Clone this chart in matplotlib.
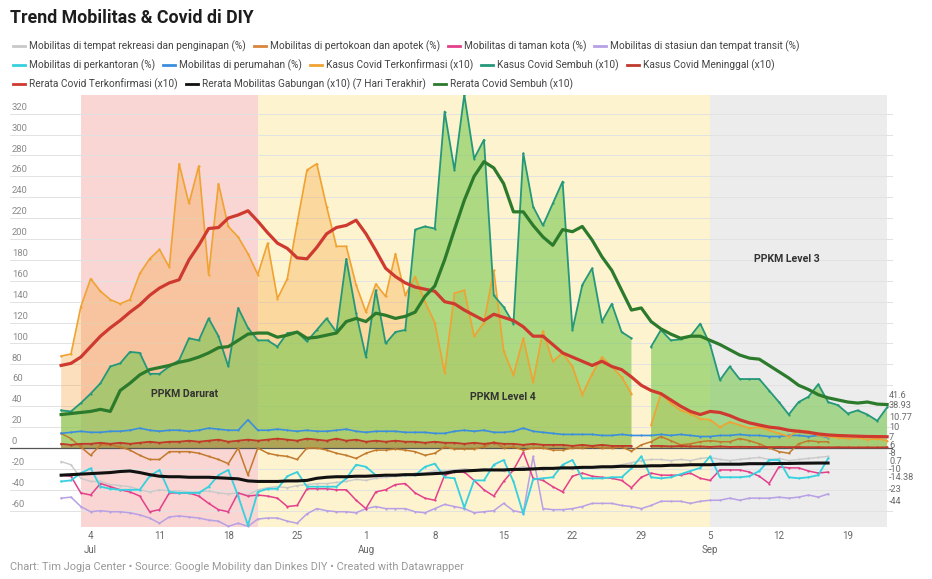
import numpy as np
import pandas as pd
import matplotlib
matplotlib.use('Agg')
import matplotlib.pyplot as plt
import matplotlib.dates as mdates
from matplotlib.lines import Line2D

nan = np.nan

# daily dates, 1 Jul - 23 Sep 2021 (covid); mobility ends 18 Sep
dates = pd.date_range('2021-07-01', '2021-09-23')
mob_dates = dates[:79]

# ---- covid series (x10) ----
terkonfirmasi = [88, 90, 135, 162, 150, 142, 138, 142, 167, 181, 190, 173, 272, 234, 270, 166, 253, 212, 202, 186,
                 166, 196, 143, 162, 215, 266, 272, 231, 193, 193, 156, 130, 157, 145, 186, 146, 164, 140, 120, 72,
                 148, 151, 107, 120, 170, 93, 70, 105, 63, 112, 83, 91, 78, 51, 71, 87, 78, 68, 52, nan,
                 22, 52, 43, 36, 33, 28, 27, 20, 25, 22, 19, 20, 17, 14, 11, 17, 16, 12, 11, 10,
                 9, 10, 8, 9, 7]
sembuh = [36, 35, 43, 52, 62, 78, 81, 92, 91, 71, 71, 78, 84, 105, 103, 124, 107, 78, 134, 115,
          103, 103, 97, 110, 111, 102, 113, 124, 111, 181, 129, 87, 151, 100, 111, 113, 209, 212, 210, 322,
          266, 338, 277, 295, 146, 135, 119, 282, 231, 213, 234, 255, 113, 156, 172, 121, 138, 111, 105, nan,
          97, 113, 103, 104, 107, 119, 99, 65, 78, 66, 66, 66, 55, 44, 32, 44, 49, 61, 44, 41,
          33, 36, 32, 26, 38.93]
meninggal = [4, 3, 4, 4, 5, 4, 5, 4, 5, 6, 5, 6, 6, 7, 6, 7, 8, 6, 7, 8,
             7, 8, 9, 8, 7, 9, 8, 7, 9, 7, 8, 6, 7, 6, 7, 6, 6, 5, 6, 5,
             5, 4, 5, 4, 5, 4, 4, 3, 4, 3, 3, 3, 2, 3, 2, 3, 2, 2, 2, nan,
             2, 2, 1.5, 2, 1.5, 1.5, 1, 1.5, 1, 1.2, 1, 1, 0.8, 1, 0.8, 0.9, 0.7, 0.8, 0.6, 0.7,
             0.6, 0.5, 0.6, 0.5, 0.7]
rerata_terkonfirmasi = [79, 81, 87, 97, 107, 115, 122, 130, 137, 146, 153, 158, 161, 180, 194, 210, 211, 220, 223, 227,
                        217, 206, 196, 191, 182, 181, 192, 205, 211, 213, 218, 205, 189, 172, 164, 158, 154, 152, 150, 140,
                        138, 132, 127, 122, 128, 125, 122, 116, 107, 107, 99, 91, 87, 83, 79, 83, 78, 75, 68, 60,
                        55, 52, 46, 40, 35, 32, 35, 34, 31, 27, 24, 22, 20, 19, 17, 16, 15, 13.5, 12.5, 12,
                        11.6, 11.3, 11, 10.9, 10.77]
rerata_sembuh = [32, 33, 34, 35, 37, 35, 55, 62, 70, 75, 77, 79, 82, 84, 87, 91, 96, 97, 103, 109,
                 110, 110, 106, 108, 111, 105, 106, 108, 110, 121, 124, 121, 129, 127, 124, 126, 130, 145, 155, 180,
                 209, 237, 260, 274, 268, 253, 226, 226, 213, 202, 194, 209, 207, 212, 199, 183, 170, 151, 132, 134,
                 121, 114, 109, 105, 107, 107, 103, 99, 94, 89, 86, 85, 79, 73, 67, 60, 56, 51, 48, 46,
                 44, 43, 44, 42, 41.6]

# ---- google mobility (%) ----
rekreasi = [-13, -16, -29, -32, -32, -35, -36, -37, -40, -42, -40, -41, -41, -42, -42, -41, -43, -44, -43, -45,
            -40, -38, -37, -38, -36, -35, -34, -34, -33, -32, -30, -31, -29, -28, -27, -26, -24, -24, -22, -22,
            -21, -20, -21, -20, -21, -22, -20, -18, -20, -21, -20, -19, -20, -19, -18, -17, -17, -16, -14, -12,
            -11, -11, -12, -11, -12, -10, -9, -11, -12, -11, -10, -9, -11, -10, -12, -11, -10, -9, -8]
pertokoan = [14, 9, 1, -7, 3, 3, 1, -2, -7, -11, -11, -3.5, -3.5, -3.5, -5, -8, -11, -15, 0, -26,
             0, -5, -7, -8, -11, 0, 0, -2, -5, -7, -10, -5, -2, -2, -1, -2, -3.5, -7, -5, 1,
             -1, -1, -1, 1, 6, 0, 1, -2, 0, 0, -2, -2, 0, 0, 1, 0, 0, 1, -3, 3,
             6, 11, 7, 3, 4, 6, 7, 6, 6, 9, 7, 4, 0, -3.5, -5, 4, 7, 6, 6]
taman = [-26, -27, -43, -45, -34, -37, -40, -42, -46, -61, -59, -43, -43, -43, -46, -53, -59, -61, -43, -46,
         -45, -46, -48, -56, -55, -39, -39, -39, -40, -40, -50, -58, -42, -40, -35, -34, -43, -48, -50, -26,
         -23, -23, -31, -40, -46, -32, -21, -4, -29, -31, -37, -42, -27, -24, -27, -28, -29, -31, -38, -28,
         -24, -26, -26, -26, -24, -29, -31, -21, -21, -21, -23, -27, -34, -18, -19, -19, -22, -24, -23]
transit = [-48, -47, -56, -61, -60, -61, -61, -62, -64, -67, -72, -66, -65, -66, -67, -69, -70, -75, -72, -75,
           -68, -67, -67, -70, -72, -63, -58, -60, -61, -61, -62, -58, -56, -58, -58, -58, -61, -62, -58, -54,
           -56, -58, -62, -61, -60, -53, -60, -62, -8, -58, -59, -59, -58, -56, -53, -53, -53, -55, -56, -58,
           -55, -51, -51, -51, -53, -51, -50, -50, -48, -50, -48, -48, -48, -47, -48, -47, -45, -47, -44]
perkantoran = [-32, -31, -24, -19.5, -37, -39, -40, -40, -40, -27, -21, -42, -43, -43, -43, -37, -26, -21, -46, -74,
               -42, -39, -39, -27, -23, -37, -37, -37, -37, -29, -16, -18, -26, -26, -26, -26, -26, -18, -15, -28,
               -29, -57, -31, -31, -16, -11.5, -32, -63, -30, -29, -28, -16, -11.5, -29, -29, -29, -28, -28, -19.5, -8,
               -28, -29, -28, -25, -22, -19, -8, -28, -28, -28, -27, -22, -11.5, -11.5, -28, -29, -28, -26, -10]
perumahan = [14, 15, 16, 15, 15, 16, 16, 17, 19, 17, 16, 17, 17, 16, 17, 19, 18, 17, 17, 27,
             17, 17, 18, 17, 16, 17, 16, 16, 17, 18, 16, 15, 16, 16, 16, 15, 15, 15, 14, 14,
             16, 17, 16, 17, 15, 15, 16, 19, 16, 15, 14, 13, 13, 13, 13, 12, 12, 13, 12, 12,
             12, 13, 12, 13, 12, 11, 11, 12, 12, 13, 12, 12, 11, 11, 12, 12, 11, 12, 10]
rerata_mobilitas = [-26, -25.5, -25, -24.5, -24, -23.5, -22.5, -22, -23.5, -25.5, -27, -27.5, -27.5, -28, -28, -28,
                    -28.5, -29, -29.5, -31.5, -32, -32, -32, -31.5, -31.5, -31, -29, -28, -27.5, -27.5, -27, -27,
                    -26.5, -26, -26, -25.5, -25.5, -25, -24.5, -24, -22.5, -22, -21.5, -21, -21, -21, -20.5, -20.5,
                    -20, -19.5, -19.5, -19, -19, -18.5, -18.5, -18, -18, -17.5, -17.5, -17.5, -17, -17, -16.5,
                    -16.5, -16, -16, -16, -15.5, -15.5, -15.5, -15, -15, -15, -14.8, -14.8, -14.6, -14.5, -14.4,
                    -14.38]

W, H = 932, 579
fig = plt.figure(figsize=(W / 100, H / 100), dpi=100)
plt.rcParams['font.family'] = ['Roboto', 'DejaVu Sans']
ax = fig.add_axes([10 / W, 1 - 527 / H, 883 / W, 432 / H])

x = mdates.date2num(dates)
xm = mdates.date2num(mob_dates)
d0 = x[0]

# PPKM periods
ax.axvspan(mdates.date2num(pd.Timestamp('2021-07-03')), mdates.date2num(pd.Timestamp('2021-07-21')),
           color='#f9d5d3', lw=0, zorder=0)
ax.axvspan(mdates.date2num(pd.Timestamp('2021-07-21')), mdates.date2num(pd.Timestamp('2021-09-05')),
           color='#fdf3cf', lw=0, zorder=0)
ax.axvspan(mdates.date2num(pd.Timestamp('2021-09-05')), x[-1], color='#ececec', lw=0, zorder=0)

yticks = list(range(-60, 321, 20))
for v in yticks:
    if v == 0:
        ax.axhline(0, color='#555555', lw=0.9, zorder=3)
    else:
        ax.axhline(v, color='#e2e2e2', lw=0.7, zorder=1)
    ax.text(d0 - 5.0, v + 1.8, str(v), fontsize=6.8, color='#8a8a8a', va='bottom', ha='left', zorder=9)

# fills
ax.fill_between(x, 0, terkonfirmasi, color='#f7a640', alpha=0.34, lw=0, zorder=2)
ax.fill_between(x, 0, sembuh, color='#78c850', alpha=0.6, lw=0, zorder=2)
ax.fill_between(x, 0, meninggal, color='#b5532a', alpha=0.35, lw=0, zorder=2)

mk = dict(marker='o', ms=1.6, mew=0)
ax.plot(xm, rekreasi, color='#c9c9c9', lw=1, zorder=4, **mk)
ax.plot(xm, transit, color='#b7a0e4', lw=1.1, zorder=4, **mk)
ax.plot(xm, taman, color='#e43f8a', lw=1.1, zorder=4, **mk)
ax.plot(xm, perkantoran, color='#36d0df', lw=1.3, zorder=4, **mk)
ax.plot(xm, pertokoan, color='#c27a2c', lw=1.1, zorder=4, **mk)
ax.plot(xm, perumahan, color='#3b8ede', lw=1.2, zorder=4, **mk)
ax.plot(x, meninggal, color='#c0392b', lw=1.3, zorder=5, **mk)
ax.plot(x, terkonfirmasi, color='#f0a232', lw=1.2, zorder=6, **mk)
ax.plot(x, sembuh, color='#25977a', lw=1.3, zorder=6, **mk)
ax.plot(xm, rerata_mobilitas, color='#111111', lw=2.2, zorder=7)
ax.plot(x, rerata_terkonfirmasi, color='#cf3a30', lw=2.3, zorder=7)
ax.plot(x, rerata_sembuh, color='#2c7a2c', lw=2.3, zorder=7)

# period labels
ax.text(d0 + 12.6, 52, 'PPKM Darurat', fontsize=7.6, weight='bold', color='#333333', ha='center', va='center', zorder=9)
ax.text(d0 + 44.9, 49, 'PPKM Level 4', fontsize=7.6, weight='bold', color='#333333', ha='center', va='center', zorder=9)
ax.text(d0 + 73.8, 181, 'PPKM Level 3', fontsize=7.6, weight='bold', color='#333333', ha='center', va='center', zorder=9)

ax.set_xlim(d0 - 5.2, d0 + 84.6)
ax.set_ylim(-75.6, 337.8)
tick_dates = pd.date_range('2021-07-04', periods=12, freq='7D')
tick_labels = []
for d in tick_dates:
    if d.day <= 7:
        tick_labels.append('%d\n%s' % (d.day, d.strftime('%b')))
    else:
        tick_labels.append(str(d.day))
ax.set_xticks(mdates.date2num(tick_dates))
ax.set_xticklabels(tick_labels, fontsize=7, color='#666666', linespacing=1.5)
ax.tick_params(axis='x', length=0, pad=3)
ax.set_yticks([])
for s in ax.spines.values():
    s.set_visible(False)

# end-value labels on the right
end_series = [sembuh, rerata_sembuh, rerata_terkonfirmasi, perumahan, terkonfirmasi, pertokoan,
              rekreasi, meninggal, perkantoran, rerata_mobilitas, taman, transit]
end_label_y = [396, 406, 418, 428, 437, 445, 453, 461, 469, 478, 489, 502]
end_order = [1, 0, 2, 3, 4, 5, 6, 7, 8, 9, 10, 11]
for k, yy in zip(end_order, end_label_y):
    fig.text(889 / W, 1 - yy / H, '%g' % end_series[k][-1], fontsize=6.6, color='#6a6a6a', va='center')

# title, legend, footer
fig.text(10 / W, 1 - 18 / H, 'Trend Mobilitas & Covid di DIY', fontsize=12.8, weight='bold', color='#1d1d1d',
         va='center')

legend_rows = [
    [('Mobilitas di tempat rekreasi dan penginapan (%)', '#c9c9c9'),
     ('Mobilitas di pertokoan dan apotek (%)', '#d9853b'),
     ('Mobilitas di taman kota (%)', '#e43f8a'),
     ('Mobilitas di stasiun dan tempat transit (%)', '#b7a0e4')],
    [('Mobilitas di perkantoran (%)', '#36d0df'),
     ('Mobilitas di perumahan (%)', '#3b8ede'),
     ('Kasus Covid Terkonfirmasi (x10)', '#f0a232'),
     ('Kasus Covid Sembuh (x10)', '#25977a'),
     ('Kasus Covid Meninggal (x10)', '#c0392b')],
    [('Rerata Covid Terkonfirmasi (x10)', '#cf3a30'),
     ('Rerata Mobilitas Gabungan (x10) (7 Hari Terakhir)', '#111111'),
     ('Rerata Covid Sembuh (x10)', '#2c7a2c')],
]
renderer = fig.canvas.get_renderer()
for row, y_px in zip(legend_rows, [46, 65, 84]):
    xp = 13
    for label, color in row:
        fig.add_artist(Line2D([xp / W, (xp + 12) / W], [1 - y_px / H] * 2, color=color, lw=2,
                              transform=fig.transFigure))
        t = fig.text((xp + 16) / W, 1 - y_px / H, label, fontsize=7.3, color='#444444', va='center')
        bb = t.get_window_extent(renderer)
        xp = bb.x1 + 8

fig.text(10 / W, 1 - 567 / H, 'Chart: Tim Jogja Center \u2022 Source: Google Mobility dan Dinkes DIY \u2022 Created with Datawrapper',
         fontsize=7.9, color='#9a9a9a', va='center')

fig.savefig('out.png', dpi=100, facecolor='white')
